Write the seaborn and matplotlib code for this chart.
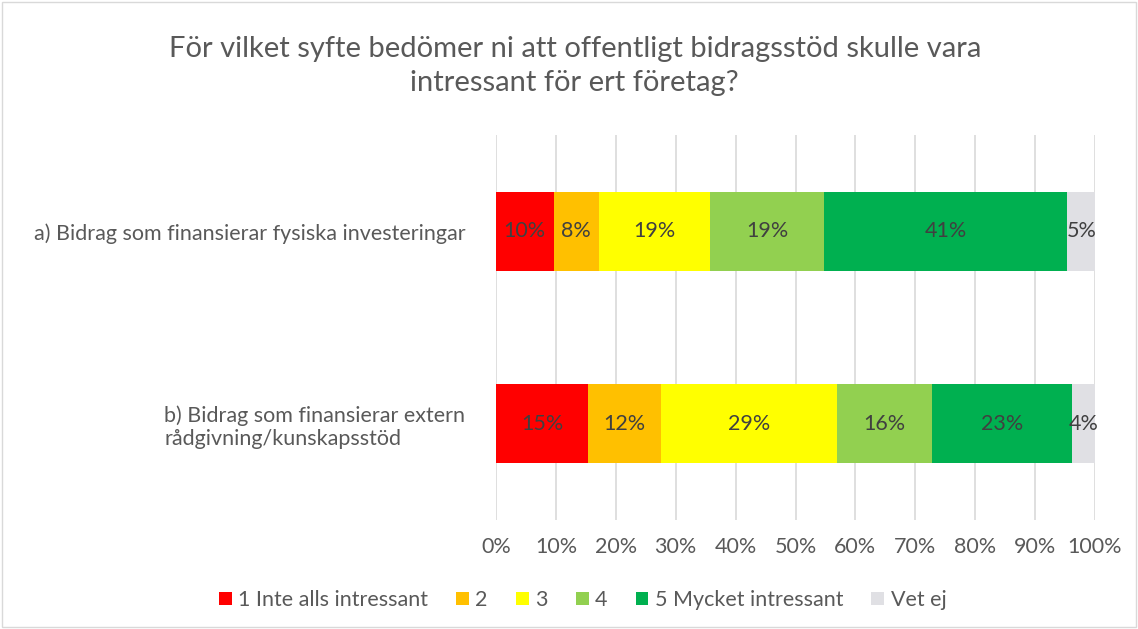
import matplotlib
matplotlib.use("Agg")
import matplotlib.pyplot as plt
import seaborn as sns
import pandas as pd
import numpy as np
from matplotlib.patches import Patch, Rectangle

categories = ["a) Bidrag som finansierar fysiska investeringar",
              "b) Bidrag som finansierar extern\nrådgivning/kunskapsstöd"]
series_names = ["1 Inte alls intressant", "2", "3", "4", "5 Mycket intressant", "Vet ej"]
values_a = [9.6, 7.6, 18.6, 19.0, 40.6, 4.6]
values_b = [15.4, 12.2, 29.3, 15.9, 23.3, 3.9]
colors = ["#FF0000", "#FFC000", "#FFFF00", "#92D050", "#00B050", "#E0E0E4"]
xticks = list(range(0, 101, 10))
title = "För vilket syfte bedömer ni att offentligt bidragsstöd skulle vara\nintressant för ert företag?"

sns.set_theme(style="white")
plt.rcParams["font.family"] = ["Lato", "DejaVu Sans"]

rows = []
for cat, vals in zip(categories, [values_a, values_b]):
    cum = np.cumsum(vals)
    for name, v, c in zip(series_names, vals, cum):
        rows.append({"cat": cat, "series": name, "value": v, "cum": c})
df = pd.DataFrame(rows)

fig = plt.figure(figsize=(11.38, 6.29), dpi=100)
ax = fig.add_axes([496/1138, 1-520/629, (1095-496)/1138, (520-135)/629])

for name, col in reversed(list(zip(series_names, colors))):
    sub = df[df["series"] == name]
    sns.barplot(data=sub, x="cum", y="cat", order=categories, color=col,
                orient="h", width=0.41, ax=ax, saturation=1, edgecolor="none")

for _, r in df.iterrows():
    yi = categories.index(r["cat"])
    ax.text(r["cum"] - r["value"]/2, yi, f"{r['value']:.0f}%", ha="center", va="center",
            fontsize=15.5, color="#404040")

ax.set_xlim(0, 100)
ax.set_ylim(1.5, -0.5)
ax.set_xticks(xticks)
ax.set_xticklabels([f"{t}%" for t in xticks], fontsize=15.5, color="#595959")
ax.tick_params(axis="x", pad=12, length=0)
ax.tick_params(axis="y", pad=22, length=0)
for lbl in ax.get_yticklabels():
    lbl.set_fontsize(15.5)
    lbl.set_color("#595959")
    lbl.set_multialignment("left")
ax.set_xlabel("")
ax.set_ylabel("")
ax.grid(axis="x", color="#D9D9D9", linewidth=1.2)
ax.set_axisbelow(True)
for s in ax.spines.values():
    s.set_visible(False)

fig.text(0.505, 1-66/629, title, ha="center", va="center", fontsize=21,
         color="#595959", linespacing=1.35)

handles = [Patch(facecolor=c, edgecolor="none") for c in colors]
fig.legend(handles, series_names, loc="center", bbox_to_anchor=(0.512, 1-600/629),
           ncol=6, frameon=False, fontsize=15.5, handlelength=0.6, handleheight=0.6,
           handletextpad=0.3, columnspacing=1.3, labelcolor="#595959")

fig.patches.append(Rectangle((0.002, 0.003), 0.996, 0.994, transform=fig.transFigure,
                             fill=False, edgecolor="#D9D9D9", linewidth=1))

fig.savefig("out.png", dpi=100)
